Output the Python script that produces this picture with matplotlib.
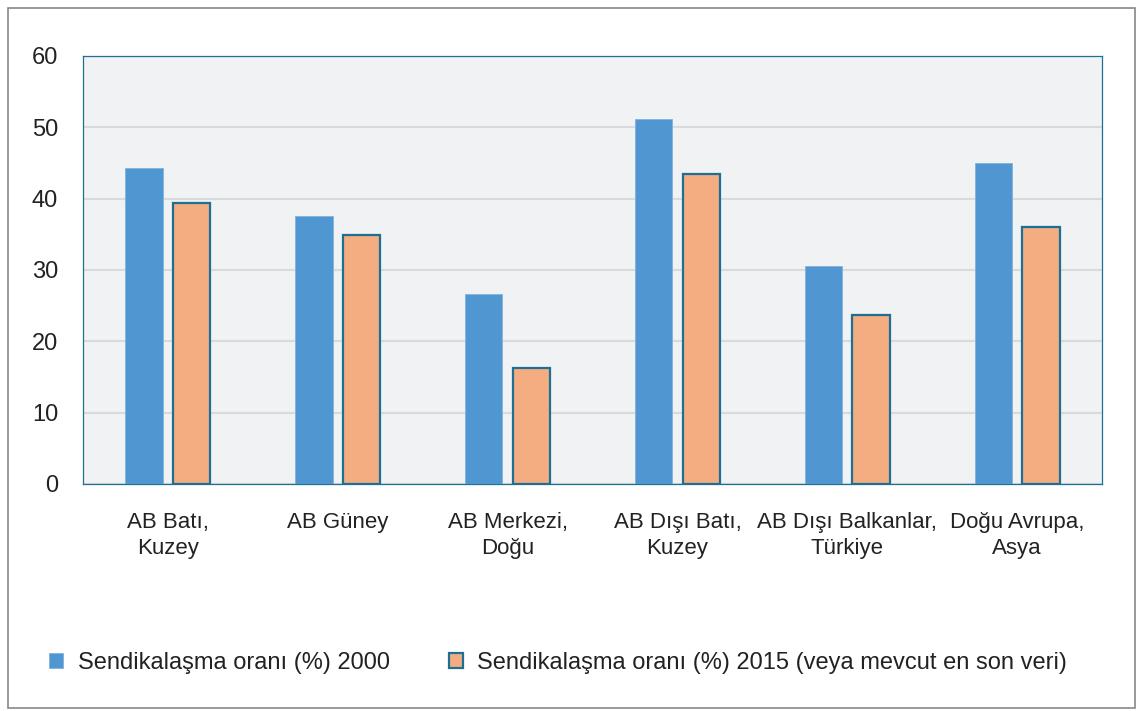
import matplotlib.pyplot as plt
import numpy as np
from matplotlib.patches import Rectangle

categories = [
    "AB Batı,\nKuzey",
    "AB Güney",
    "AB Merkezi,\nDoğu",
    "AB Dışı Batı,\nKuzey",
    "AB Dışı Balkanlar,\nTürkiye",
    "Doğu Avrupa,\nAsya",
]
rate_2000 = [44.3, 37.6, 26.6, 51.2, 30.6, 45.0]
rate_2015 = [39.4, 34.9, 16.3, 43.5, 23.7, 36.0]
label_2000 = "Sendikalaşma oranı (%) 2000"
label_2015 = "Sendikalaşma oranı (%) 2015 (veya mevcut en son veri)"

BLUE = "#5097d2"
ORANGE = "#f4ad80"
EDGE = "#1e6f94"
TEXT = "#222222"

plt.rcParams["font.family"] = ["Liberation Sans", "DejaVu Sans"]

fig = plt.figure(figsize=(11.43, 7.11), dpi=100)
fig.add_artist(Rectangle((8 / 1143, 3 / 711), 1127 / 1143, 700 / 711,
                         transform=fig.transFigure, fill=False,
                         edgecolor="#888888", linewidth=1.2))

ax = fig.add_axes([83 / 1143, 1 - 484 / 711, 1019 / 1143, 428 / 711])
ax.set_facecolor("#f0f2f4")

x = np.arange(len(categories))
width = 0.22
ax.bar(x - 0.14, rate_2000, width, color=BLUE, edgecolor="#7fb3de",
       linewidth=0.6, label=label_2000, zorder=3)
ax.bar(x + 0.14, rate_2015, width, color=ORANGE, edgecolor=EDGE,
       linewidth=1.6, label=label_2015, zorder=3)

ax.set_xlim(-0.5, len(categories) - 0.5)
ax.set_ylim(0, 60)
ax.set_yticks(range(0, 61, 10))
ax.yaxis.grid(True, color="#d9dadc", linewidth=1.5, zorder=0)
ax.tick_params(axis="both", length=0, colors=TEXT)
ax.tick_params(axis="y", labelsize=17, pad=18)
ax.set_xticks(x)
ax.set_xticklabels(categories, fontsize=16, linespacing=1.3)
ax.tick_params(axis="x", pad=20)
for spine in ax.spines.values():
    spine.set_color(EDGE)
    spine.set_linewidth(0.9)

handles, labels = ax.get_legend_handles_labels()
fig.legend(handles, labels, loc="center left",
           bbox_to_anchor=(28 / 1143, 1 - 663 / 711), ncol=2,
           frameon=False, fontsize=17, handlelength=0.6, handleheight=0.6,
           handletextpad=0.6, columnspacing=2.5, labelcolor=TEXT)

fig.savefig("out.png", dpi=100)
